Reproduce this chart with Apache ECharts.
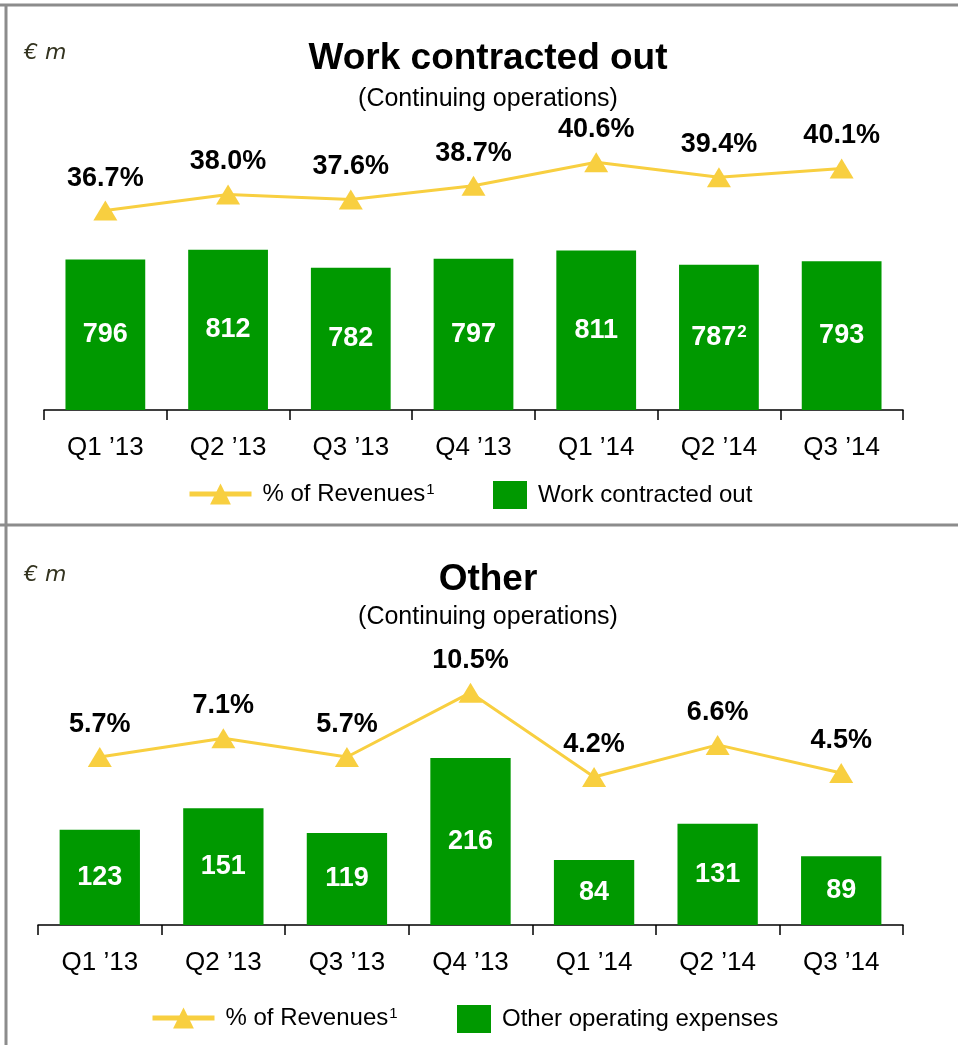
<!DOCTYPE html>
<html>
<head>
<meta charset="utf-8">
<script src="https://cdn.jsdelivr.net/npm/echarts@6/dist/echarts.min.js"></script>
<style>
  html, body { margin: 0; padding: 0; background: #fff; }
  #main { width: 958px; height: 1045px; }
</style>
</head>
<body>
<div id="main"></div>
<script>
// 季度
var quarters = ['Q1 \u201913', 'Q2 \u201913', 'Q3 \u201913', 'Q4 \u201913', 'Q1 \u201914', 'Q2 \u201914', 'Q3 \u201914'];
// 上图：外包工作
var workOut = [796, 812, 782, 797, 811, 787, 793];
var workOutNote = ['', '', '', '', '', '2', ''];
var workPct = [36.7, 38.0, 37.6, 38.7, 40.6, 39.4, 40.1];
// 下图：其他
var otherExp = [123, 151, 119, 216, 84, 131, 89];
var otherPct = [5.7, 7.1, 5.7, 10.5, 4.2, 6.6, 4.5];

var GREEN = '#009900';
var YELLOW = '#f8cf40';
var FONT = 'Liberation Sans, Arial, sans-serif';

var myChart = echarts.init(document.getElementById('main'));

function xAxisCfg(gridIndex) {
    return {
        type: 'category',
        gridIndex: gridIndex,
        data: quarters,
        axisLine: { lineStyle: { color: '#000', width: 1.5 } },
        axisTick: { show: true, length: 10, alignWithLabel: false, lineStyle: { color: '#000', width: 1.5 } },
        axisLabel: { color: '#000', fontSize: 26, fontFamily: FONT, margin: 25 }
    };
}
function yAxisCfg(gridIndex, min, max) {
    return {
        type: 'value', gridIndex: gridIndex, min: min, max: max,
        show: false, splitLine: { show: false }
    };
}
function barSeries(name, x, y, data, notes) {
    return {
        name: name, type: 'bar', xAxisIndex: x, yAxisIndex: y,
        data: data, barWidth: '65%',
        itemStyle: { color: GREEN },
        label: {
            show: true, position: 'inside', color: '#fff', fontWeight: 'bold',
            fontSize: 27, fontFamily: FONT,
            formatter: function (p) {
                var n = notes ? notes[p.dataIndex] : '';
                return '{v|' + p.value + '}' + (n ? '{sup|' + n + '}' : '');
            },
            rich: {
                v: { fontSize: 27, fontWeight: 'bold', color: '#fff', fontFamily: FONT },
                sup: { fontSize: 17, fontWeight: 'bold', color: '#fff', fontFamily: FONT, verticalAlign: 'top', padding: [0, 0, 8, 1] }
            }
        }
    };
}
function lineSeries(x, y, data) {
    return {
        name: '% of Revenues\u00b9', type: 'line', xAxisIndex: x, yAxisIndex: y,
        data: data, symbol: 'triangle', symbolSize: [24, 20],
        lineStyle: { color: YELLOW, width: 3 },
        itemStyle: { color: YELLOW },
        label: {
            show: true, position: 'top', distance: 9, color: '#000',
            fontWeight: 'bold', fontSize: 27, fontFamily: FONT,
            formatter: function (p) { return p.value.toFixed(1) + '%'; }
        },
        z: 3
    };
}
function legendCfg(name, left, top, w, h, icon) {
    var cfg = {
        data: [name], left: left, top: top, itemWidth: w, itemHeight: h,
        selectedMode: false,
        lineStyle: { width: 5 },
        formatter: function (s) { return '{t|' + s.replace('\u00b9', '') + '}' + (s.indexOf('\u00b9') >= 0 ? '{sup|1}' : ''); },
        textStyle: {
            fontSize: 24, color: '#000', fontFamily: FONT, padding: [0, 0, 0, 6],
            rich: {
                t: { fontSize: 24, color: '#000', fontFamily: FONT },
                sup: { fontSize: 15, color: '#000', fontFamily: FONT, verticalAlign: 'top', padding: [0, 0, 8, 1] }
            }
        }
    };
    if (icon) cfg.icon = icon;
    return cfg;
}

var option = {
    animation: false,
    backgroundColor: '#fff',
    title: [
        { text: 'Work contracted out', left: 483, top: 35, textAlign: 'center',
          textStyle: { fontSize: 37, fontWeight: 'bold', color: '#000', fontFamily: FONT } },
        { text: '(Continuing operations)', left: 483, top: 82, textAlign: 'center',
          textStyle: { fontSize: 25, fontWeight: 'normal', color: '#000', fontFamily: FONT } },
        { text: '\u20ac m', left: 19, top: 37,
          textStyle: { fontSize: 22, fontStyle: 'italic', fontWeight: 'normal', color: '#33331f', fontFamily: 'DejaVu Sans' } },
        { text: 'Other', left: 483, top: 556, textAlign: 'center',
          textStyle: { fontSize: 37, fontWeight: 'bold', color: '#000', fontFamily: FONT } },
        { text: '(Continuing operations)', left: 483, top: 600, textAlign: 'center',
          textStyle: { fontSize: 25, fontWeight: 'normal', color: '#000', fontFamily: FONT } },
        { text: '\u20ac m', left: 19, top: 559,
          textStyle: { fontSize: 22, fontStyle: 'italic', fontWeight: 'normal', color: '#33331f', fontFamily: 'DejaVu Sans' } }
    ],
    legend: [
        legendCfg('% of Revenues\u00b9', 182, 477, 62, 26),
        legendCfg('Work contracted out', 488, 476, 34, 28, 'rect'),
        legendCfg('% of Revenues\u00b9', 145, 1001, 62, 26),
        legendCfg('Other operating expenses', 452, 1000, 34, 28, 'rect')
    ],
    grid: [
        { left: 44, right: 55, top: 140, bottom: 635 },
        { left: 38, right: 55, top: 655, bottom: 120 }
    ],
    xAxis: [xAxisCfg(0), xAxisCfg(1)],
    yAxis: [
        yAxisCfg(0, 545, 995),
        yAxisCfg(0, 20.6, 42.4),
        yAxisCfg(1, 0, 349),
        yAxisCfg(1, -6.84, 13.31)
    ],
    series: [
        barSeries('Work contracted out', 0, 0, workOut, workOutNote),
        lineSeries(0, 1, workPct),
        barSeries('Other operating expenses', 1, 2, otherExp, null),
        lineSeries(1, 3, otherPct)
    ],
    graphic: [
        { type: 'line', shape: { x1: 0, y1: 5, x2: 958, y2: 5 }, style: { stroke: '#8c8c8c', lineWidth: 3 } },
        { type: 'line', shape: { x1: 6, y1: 5, x2: 6, y2: 1045 }, style: { stroke: '#8c8c8c', lineWidth: 3 } },
        { type: 'line', shape: { x1: 0, y1: 525, x2: 958, y2: 525 }, style: { stroke: '#8c8c8c', lineWidth: 3 } }
    ]
};

myChart.setOption(option);
</script>
</body>
</html>
